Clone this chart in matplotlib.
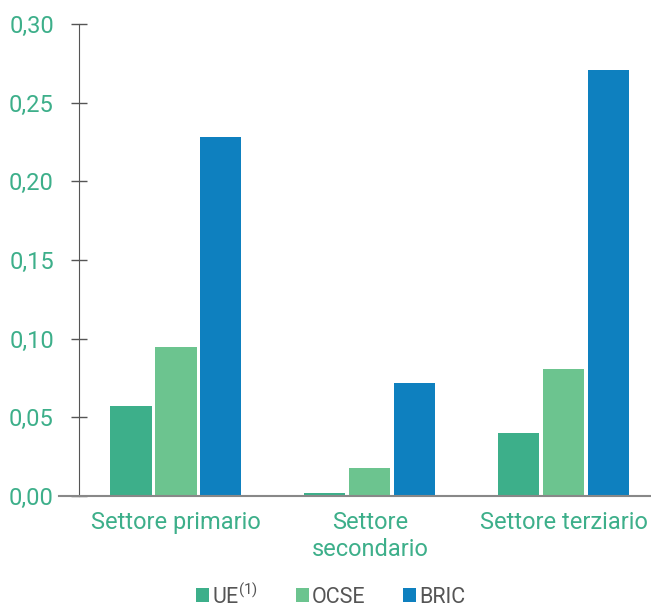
import matplotlib.pyplot as plt
import numpy as np

plt.rcParams['font.family'] = ['Roboto', 'DejaVu Sans']

categories = ['Settore primario', 'Settore\nsecondario', 'Settore terziario']
series = ['UE$^{\\mathregular{(1)}}$', 'OCSE', 'BRIC']
ue = [0.057, 0.002, 0.040]
ocse = [0.095, 0.018, 0.081]
bric = [0.228, 0.072, 0.271]
yticks = [0.0, 0.05, 0.10, 0.15, 0.20, 0.25, 0.30]

colors = ['#3daf8a', '#6cc48f', '#0e80bf']
label_color = '#3daf8a'

fig = plt.figure(figsize=(6.51, 6.09), dpi=100)
ax = fig.add_axes([79 / 651, 113 / 609, 572 / 651, 472 / 609])

x = np.arange(len(categories))
step = 0.232
width = 0.212
for i, (vals, name) in enumerate(zip([ue, ocse, bric], series)):
    ax.bar(x + (i - 1) * step, vals, width, color=colors[i], label=name)

ax.set_xlim(-0.5, 2.45)
ax.set_ylim(0, 0.30)
ax.set_yticks(yticks)
ax.set_yticklabels([('%.2f' % v).replace('.', ',') for v in yticks])
ax.set_xticks(x)
ax.set_xticklabels(categories, linespacing=1.2)

ax.tick_params(axis='y', direction='inout', length=12, width=1, color='#555555',
               labelsize=17, labelcolor=label_color, pad=12)
ax.tick_params(axis='x', length=0, labelsize=17, labelcolor=label_color, pad=11)

for s in ['top', 'right']:
    ax.spines[s].set_visible(False)
ax.spines['left'].set_color('#555555')
ax.spines['bottom'].set_visible(False)
ax.plot([-0.035, 1], [0, 0], transform=ax.transAxes, color='#888888', lw=1.5,
        clip_on=False, zorder=5)

leg = fig.legend(loc='lower center', bbox_to_anchor=(0.508, -0.03), ncol=3, frameon=False,
                 fontsize=15.5, handlelength=0.6, handleheight=0.6, handletextpad=0.15,
                 columnspacing=1.75)
for t in leg.get_texts():
    t.set_color('#555555')

fig.savefig('out.png', dpi=100)
